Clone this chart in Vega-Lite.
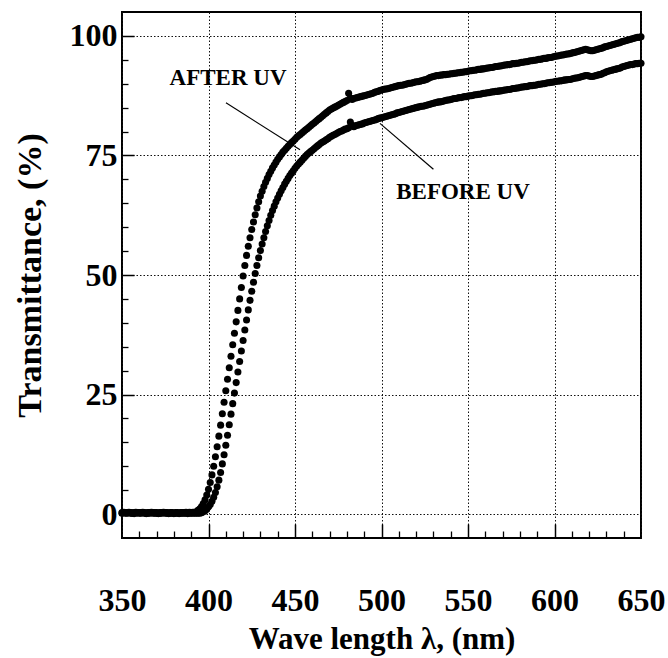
{
  "$schema": "https://vega.github.io/schema/vega-lite/v6.json",
  "width": 519,
  "height": 526,
  "autosize": {"type": "none"},
  "padding": {"left": 122, "top": 12, "right": 27, "bottom": 120},
  "background": "white",
  "config": {
    "view": {"stroke": "black", "strokeWidth": 2},
    "axis": {"labelFont": "Liberation Serif", "titleFont": "Liberation Serif", "labelFontWeight": "bold", "titleFontWeight": "bold", "labelColor": "black", "titleColor": "black", "domain": false, "labelFlush": false, "labelOverlap": false}
  },
  "datasets": {
    "spectra": [
{"w":350,"a":0.3,"b":0.2},{"w":351,"a":0.4,"b":0.3},{"w":352,"a":0.3,"b":0.2},{"w":353,"a":0.3,"b":0.2},{"w":354,"a":0.4,"b":0.3},{"w":355,"a":0.3,"b":0.2},{"w":356,"a":0.2,"b":0.2},{"w":357,"a":0.3,"b":0.1},{"w":358,"a":0.4,"b":0.2},{"w":359,"a":0.3,"b":0.3},
{"w":360,"a":0.3,"b":0.2},{"w":361,"a":0.3,"b":0.2},{"w":362,"a":0.4,"b":0.3},{"w":363,"a":0.3,"b":0.2},{"w":364,"a":0.2,"b":0.1},{"w":365,"a":0.3,"b":0.2},{"w":366,"a":0.3,"b":0.2},{"w":367,"a":0.4,"b":0.3},{"w":368,"a":0.3,"b":0.2},{"w":369,"a":0.3,"b":0.2},
{"w":370,"a":0.3,"b":0.2},{"w":371,"a":0.2,"b":0.1},{"w":372,"a":0.3,"b":0.2},{"w":373,"a":0.3,"b":0.2},{"w":374,"a":0.4,"b":0.3},{"w":375,"a":0.3,"b":0.2},{"w":376,"a":0.3,"b":0.2},{"w":377,"a":0.2,"b":0.1},{"w":378,"a":0.3,"b":0.2},{"w":379,"a":0.3,"b":0.2},
{"w":380,"a":0.2,"b":0.1},{"w":381,"a":0.3,"b":0.2},{"w":382,"a":0.3,"b":0.2},{"w":383,"a":0.2,"b":0.1},{"w":384,"a":0.3,"b":0.2},{"w":385,"a":0.3,"b":0.2},{"w":386,"a":0.3,"b":0.2},{"w":387,"a":0.4,"b":0.2},{"w":388,"a":0.3,"b":0.1},{"w":389,"a":0.4,"b":0.2},
{"w":390,"a":0.3,"b":0.2},{"w":391,"a":0.4,"b":0.2},{"w":392,"a":0.4,"b":0.2},{"w":393,"a":0.5,"b":0.2},{"w":394,"a":0.8,"b":0.2},{"w":395,"a":1.1,"b":0.2},{"w":396,"a":1.6,"b":0.3},{"w":397,"a":2.2,"b":0.5},{"w":398,"a":3.0,"b":0.7},{"w":399,"a":4.0,"b":1.0},
{"w":400,"a":5.2,"b":1.5},{"w":401,"a":6.6,"b":2.0},{"w":402,"a":8.2,"b":2.7},{"w":403,"a":10.0,"b":3.5},{"w":404,"a":12.0,"b":4.5},{"w":405,"a":14.1,"b":5.7},{"w":406,"a":16.3,"b":7.1},{"w":407,"a":18.6,"b":8.7},{"w":408,"a":21.0,"b":10.5},{"w":409,"a":23.4,"b":12.4},
{"w":410,"a":25.8,"b":14.4},{"w":411,"a":28.2,"b":16.5},{"w":412,"a":30.6,"b":18.7},{"w":413,"a":33.0,"b":20.9},{"w":414,"a":35.4,"b":23.1},{"w":415,"a":37.8,"b":25.3},{"w":416,"a":40.2,"b":27.5},{"w":417,"a":42.6,"b":29.7},{"w":418,"a":45.0,"b":31.9},{"w":419,"a":47.4,"b":34.1},
{"w":420,"a":49.8,"b":36.3},{"w":421,"a":52.0,"b":38.5},{"w":422,"a":54.1,"b":40.6},{"w":423,"a":56.0,"b":42.7},{"w":424,"a":57.8,"b":44.7},{"w":425,"a":59.5,"b":46.6},{"w":426,"a":61.1,"b":48.5},{"w":427,"a":62.6,"b":50.3},{"w":428,"a":64.0,"b":52.0},{"w":429,"a":65.3,"b":53.6},
{"w":430,"a":66.5,"b":55.1},{"w":431,"a":67.5,"b":56.5},{"w":432,"a":68.5,"b":57.8},{"w":433,"a":69.4,"b":59.1},{"w":434,"a":70.2,"b":60.3},{"w":435,"a":71.0,"b":61.4},{"w":436,"a":71.7,"b":62.5},{"w":437,"a":72.4,"b":63.5},{"w":438,"a":73.0,"b":64.4},{"w":439,"a":73.6,"b":65.3},
{"w":440,"a":74.2,"b":66.1},{"w":441,"a":74.7,"b":66.9},{"w":442,"a":75.2,"b":67.6},{"w":443,"a":75.7,"b":68.3},{"w":444,"a":76.1,"b":69.0},{"w":445,"a":76.5,"b":69.6},{"w":446,"a":76.9,"b":70.2},{"w":447,"a":77.3,"b":70.8},{"w":448,"a":77.7,"b":71.3},{"w":449,"a":78.0,"b":71.8},
{"w":450,"a":78.4,"b":72.3},{"w":451,"a":78.8,"b":72.8},{"w":452,"a":79.1,"b":73.2},{"w":453,"a":79.4,"b":73.6},{"w":454,"a":79.7,"b":74.0},{"w":455,"a":80.0,"b":74.4},{"w":456,"a":80.3,"b":74.8},{"w":457,"a":80.6,"b":75.2},{"w":458,"a":80.9,"b":75.5},{"w":459,"a":81.2,"b":75.8},
{"w":460,"a":81.5,"b":76.1},{"w":461,"a":81.8,"b":76.4},{"w":462,"a":82.1,"b":76.7},{"w":463,"a":82.4,"b":77.0},{"w":464,"a":82.7,"b":77.3},{"w":465,"a":83.0,"b":77.6},{"w":466,"a":83.3,"b":77.8},{"w":467,"a":83.6,"b":78.0},{"w":468,"a":83.9,"b":78.3},{"w":469,"a":84.2,"b":78.5},
{"w":470,"a":84.5,"b":78.8},{"w":471,"a":84.7,"b":79.0},{"w":472,"a":84.9,"b":79.2},{"w":473,"a":85.1,"b":79.4},{"w":474,"a":85.3,"b":79.6},{"w":475,"a":85.5,"b":79.8},{"w":476,"a":85.7,"b":80.0},{"w":477,"a":85.9,"b":80.1},{"w":478,"a":86.1,"b":80.3},{"w":479,"a":86.3,"b":80.5},
{"w":480,"a":86.5,"b":80.6},{"w":481,"a":88.0,"b":80.8},{"w":482,"a":87.0,"b":82.0},{"w":483,"a":86.7,"b":81.3},{"w":484,"a":86.9,"b":81.0},{"w":485,"a":87.0,"b":81.2},{"w":486,"a":87.1,"b":81.3},{"w":487,"a":87.2,"b":81.4},{"w":488,"a":87.3,"b":81.5},{"w":489,"a":87.4,"b":81.6},
{"w":490,"a":87.5,"b":81.8},{"w":491,"a":87.6,"b":81.9},{"w":492,"a":87.7,"b":82.0},{"w":493,"a":87.8,"b":82.1},{"w":494,"a":87.9,"b":82.2},{"w":495,"a":88.0,"b":82.3},{"w":496,"a":88.2,"b":82.4},{"w":497,"a":88.3,"b":82.5},{"w":498,"a":88.4,"b":82.7},{"w":499,"a":88.6,"b":82.8},
{"w":500,"a":88.7,"b":82.9},{"w":501,"a":88.8,"b":83.0},{"w":502,"a":88.9,"b":83.1},{"w":503,"a":88.9,"b":83.2},{"w":504,"a":89.0,"b":83.3},{"w":505,"a":89.1,"b":83.4},{"w":506,"a":89.2,"b":83.5},{"w":507,"a":89.3,"b":83.6},{"w":508,"a":89.4,"b":83.7},{"w":509,"a":89.5,"b":83.9},
{"w":510,"a":89.6,"b":84.0},{"w":511,"a":89.7,"b":84.1},{"w":512,"a":89.7,"b":84.2},{"w":513,"a":89.8,"b":84.3},{"w":514,"a":89.9,"b":84.4},{"w":515,"a":90.0,"b":84.5},{"w":516,"a":90.1,"b":84.6},{"w":517,"a":90.1,"b":84.7},{"w":518,"a":90.2,"b":84.8},{"w":519,"a":90.3,"b":84.9},
{"w":520,"a":90.4,"b":85.0},{"w":521,"a":90.4,"b":85.1},{"w":522,"a":90.5,"b":85.2},{"w":523,"a":90.6,"b":85.3},{"w":524,"a":90.7,"b":85.3},{"w":525,"a":90.8,"b":85.4},{"w":526,"a":90.9,"b":85.5},{"w":527,"a":91.1,"b":85.6},{"w":528,"a":91.3,"b":85.7},{"w":529,"a":91.4,"b":85.8},
{"w":530,"a":91.5,"b":85.9},{"w":531,"a":91.6,"b":86.0},{"w":532,"a":91.7,"b":86.1},{"w":533,"a":91.7,"b":86.2},{"w":534,"a":91.8,"b":86.2},{"w":535,"a":91.8,"b":86.3},{"w":536,"a":91.9,"b":86.4},{"w":537,"a":91.9,"b":86.5},{"w":538,"a":92.0,"b":86.6},{"w":539,"a":92.0,"b":86.6},
{"w":540,"a":92.1,"b":86.7},{"w":541,"a":92.1,"b":86.8},{"w":542,"a":92.2,"b":86.9},{"w":543,"a":92.2,"b":86.9},{"w":544,"a":92.3,"b":87.0},{"w":545,"a":92.3,"b":87.1},{"w":546,"a":92.4,"b":87.1},{"w":547,"a":92.4,"b":87.2},{"w":548,"a":92.5,"b":87.3},{"w":549,"a":92.5,"b":87.3},
{"w":550,"a":92.6,"b":87.4},{"w":551,"a":92.7,"b":87.5},{"w":552,"a":92.7,"b":87.5},{"w":553,"a":92.8,"b":87.6},{"w":554,"a":92.8,"b":87.7},{"w":555,"a":92.9,"b":87.7},{"w":556,"a":93.0,"b":87.8},{"w":557,"a":93.0,"b":87.8},{"w":558,"a":93.1,"b":87.9},{"w":559,"a":93.1,"b":88.0},
{"w":560,"a":93.2,"b":88.0},{"w":561,"a":93.3,"b":88.1},{"w":562,"a":93.3,"b":88.1},{"w":563,"a":93.4,"b":88.2},{"w":564,"a":93.4,"b":88.3},{"w":565,"a":93.5,"b":88.3},{"w":566,"a":93.6,"b":88.4},{"w":567,"a":93.6,"b":88.4},{"w":568,"a":93.7,"b":88.5},{"w":569,"a":93.7,"b":88.5},
{"w":570,"a":93.8,"b":88.6},{"w":571,"a":93.9,"b":88.7},{"w":572,"a":93.9,"b":88.7},{"w":573,"a":94.0,"b":88.8},{"w":574,"a":94.0,"b":88.8},{"w":575,"a":94.1,"b":88.9},{"w":576,"a":94.2,"b":89.0},{"w":577,"a":94.2,"b":89.0},{"w":578,"a":94.3,"b":89.1},{"w":579,"a":94.3,"b":89.1},
{"w":580,"a":94.4,"b":89.2},{"w":581,"a":94.5,"b":89.3},{"w":582,"a":94.5,"b":89.3},{"w":583,"a":94.6,"b":89.4},{"w":584,"a":94.6,"b":89.4},{"w":585,"a":94.7,"b":89.5},{"w":586,"a":94.8,"b":89.6},{"w":587,"a":94.8,"b":89.6},{"w":588,"a":94.9,"b":89.7},{"w":589,"a":94.9,"b":89.7},
{"w":590,"a":95.0,"b":89.8},{"w":591,"a":95.1,"b":89.9},{"w":592,"a":95.1,"b":89.9},{"w":593,"a":95.2,"b":90.0},{"w":594,"a":95.3,"b":90.0},{"w":595,"a":95.3,"b":90.1},{"w":596,"a":95.4,"b":90.2},{"w":597,"a":95.5,"b":90.2},{"w":598,"a":95.5,"b":90.3},{"w":599,"a":95.6,"b":90.3},
{"w":600,"a":95.7,"b":90.4},{"w":601,"a":95.8,"b":90.5},{"w":602,"a":95.8,"b":90.5},{"w":603,"a":95.9,"b":90.6},{"w":604,"a":96.0,"b":90.6},{"w":605,"a":96.0,"b":90.7},{"w":606,"a":96.1,"b":90.8},{"w":607,"a":96.2,"b":90.8},{"w":608,"a":96.2,"b":90.9},{"w":609,"a":96.3,"b":90.9},
{"w":610,"a":96.4,"b":91.0},{"w":611,"a":96.5,"b":91.1},{"w":612,"a":96.6,"b":91.2},{"w":613,"a":96.7,"b":91.2},{"w":614,"a":96.8,"b":91.3},{"w":615,"a":96.9,"b":91.4},{"w":616,"a":97.0,"b":91.5},{"w":617,"a":97.1,"b":91.6},{"w":618,"a":97.2,"b":91.7},{"w":619,"a":97.1,"b":91.7},
{"w":620,"a":97.0,"b":91.6},{"w":621,"a":96.9,"b":91.5},{"w":622,"a":96.9,"b":91.5},{"w":623,"a":97.0,"b":91.6},{"w":624,"a":97.1,"b":91.7},{"w":625,"a":97.2,"b":91.8},{"w":626,"a":97.3,"b":91.9},{"w":627,"a":97.4,"b":92.0},{"w":628,"a":97.5,"b":92.2},{"w":629,"a":97.7,"b":92.3},
{"w":630,"a":97.8,"b":92.5},{"w":631,"a":97.9,"b":92.6},{"w":632,"a":98.0,"b":92.7},{"w":633,"a":98.1,"b":92.8},{"w":634,"a":98.2,"b":92.9},{"w":635,"a":98.3,"b":93.0},{"w":636,"a":98.4,"b":93.1},{"w":637,"a":98.5,"b":93.2},{"w":638,"a":98.6,"b":93.3},{"w":639,"a":98.8,"b":93.5},
{"w":640,"a":98.9,"b":93.6},{"w":641,"a":99.0,"b":93.7},{"w":642,"a":99.1,"b":93.8},{"w":643,"a":99.2,"b":93.9},{"w":644,"a":99.3,"b":94.0},{"w":645,"a":99.4,"b":94.0},{"w":646,"a":99.5,"b":94.1},{"w":647,"a":99.6,"b":94.2},{"w":648,"a":99.7,"b":94.2},{"w":649,"a":99.7,"b":94.3},
{"w":650,"a":99.8,"b":94.3}
    ],
    "labels": [
      {"w": 411.3, "T": 91.1, "label": "AFTER UV"},
      {"w": 547.1, "T": 67.3, "label": "BEFORE UV"}
    ],
    "pointers": [
      {"w": 410.1, "T": 86.0, "w2": 452.9, "T2": 76.2},
      {"w": 499.1, "T": 81.7, "w2": 530.0, "T2": 72.1}
    ],
    "extent": [{"w": 350, "T": -5}, {"w": 650, "T": 105}]
  },
  "layer": [
    {
      "layer": [
        {
          "data": {"name": "spectra"},
          "transform": [{"fold": ["a", "b"], "as": ["series", "T"]}],
          "mark": {"type": "circle", "size": 50, "color": "black", "opacity": 1},
          "encoding": {
            "x": {"field": "w", "type": "quantitative", "scale": {"domain": [350, 650], "nice": false, "zero": false},
              "axis": {"values": [350, 400, 450, 500, 550, 600, 650], "format": "d", "labelFontSize": 32, "labelPadding": 47, "ticks": false, "grid": true, "gridDash": [1.5, 2], "gridColor": "#111", "gridWidth": 1, "title": "Wave length λ, (nm)", "titleFontSize": 31, "titleBaseline": "alphabetic", "titleY": 110}},
            "y": {"field": "T", "type": "quantitative", "scale": {"domain": [-5, 105], "nice": false, "zero": false},
              "axis": {"values": [0, 25, 50, 75, 100], "format": "d", "labelFontSize": 32, "labelPadding": 5, "ticks": false, "grid": true, "gridDash": [1.5, 2], "gridColor": "#111", "gridWidth": 1, "title": "Transmittance, (%)", "titleFontSize": 34, "titleBaseline": "middle", "titleX": -92, "titleY": 263}}
          }
        },
        {
          "data": {"name": "pointers"},
          "mark": {"type": "rule", "color": "black", "strokeWidth": 1.2},
          "encoding": {
            "x": {"field": "w", "type": "quantitative"},
            "y": {"field": "T", "type": "quantitative"},
            "x2": {"field": "w2"},
            "y2": {"field": "T2"}
          }
        },
        {
          "data": {"name": "labels"},
          "mark": {"type": "text", "font": "Liberation Serif", "fontWeight": "bold", "fontSize": 23, "color": "black", "align": "center", "baseline": "middle"},
          "encoding": {
            "x": {"field": "w", "type": "quantitative"},
            "y": {"field": "T", "type": "quantitative"},
            "text": {"field": "label"}
          }
        }
      ]
    },
    {
      "data": {"name": "extent"},
      "mark": {"type": "point", "opacity": 0},
      "encoding": {
        "x": {"field": "w", "type": "quantitative", "scale": {"domain": [350, 650], "nice": false, "zero": false},
          "axis": {"orient": "bottom", "values": [360, 370, 380, 390, 410, 420, 430, 440, 460, 470, 480, 490, 510, 520, 530, 540, 560, 570, 580, 590, 610, 620, 630, 640], "labels": false, "grid": false, "ticks": true, "tickSize": -7, "tickColor": "black", "tickWidth": 1.3, "title": null}},
        "y": {"field": "T", "type": "quantitative", "scale": {"domain": [-5, 105], "nice": false, "zero": false},
          "axis": {"orient": "left", "values": [5, 10, 15, 20, 30, 35, 40, 45, 55, 60, 65, 70, 80, 85, 90, 95], "labels": false, "grid": false, "ticks": true, "tickSize": -6, "tickColor": "black", "tickWidth": 1.3, "title": null}}
      }
    },
    {
      "data": {"name": "extent"},
      "mark": {"type": "point", "opacity": 0},
      "encoding": {
        "x": {"field": "w", "type": "quantitative", "scale": {"domain": [350, 650], "nice": false, "zero": false},
          "axis": {"orient": "bottom", "values": [400, 450, 500, 550, 600], "labels": false, "grid": false, "ticks": true, "tickSize": -14, "tickColor": "black", "tickWidth": 1.5, "title": null}},
        "y": {"field": "T", "type": "quantitative", "scale": {"domain": [-5, 105], "nice": false, "zero": false},
          "axis": {"orient": "left", "values": [0, 25, 50, 75, 100], "labels": false, "grid": false, "ticks": true, "tickSize": -12, "tickColor": "black", "tickWidth": 1.5, "title": null}}
      }
    }
  ],
  "resolve": {"scale": {"x": "independent", "y": "independent"}, "axis": {"x": "independent", "y": "independent"}}
}
